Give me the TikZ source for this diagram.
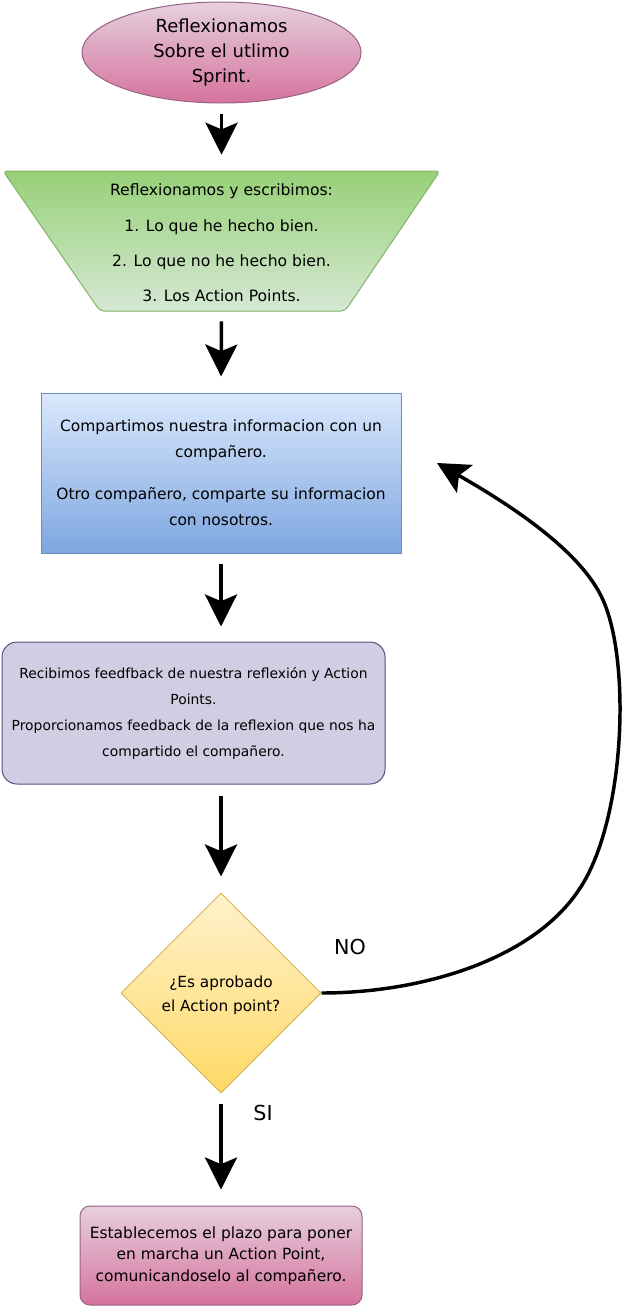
\documentclass[tikz,border=0pt]{standalone}
\usepackage{fontspec}
\setmainfont{DejaVu Sans}
\usetikzlibrary{arrows.meta,shapes.geometric}
\definecolor{pinkTop}{HTML}{E6D0DE}
\definecolor{pinkBot}{HTML}{D5739D}
\definecolor{pinkDraw}{HTML}{996185}
\definecolor{greenTop}{HTML}{97D077}
\definecolor{greenBot}{HTML}{D5E8D4}
\definecolor{greenDraw}{HTML}{82B366}
\definecolor{blueTop}{HTML}{DAE8FC}
\definecolor{blueBot}{HTML}{7EA6E0}
\definecolor{blueDraw}{HTML}{6C8EBF}
\definecolor{purpleFill}{HTML}{D0CEE2}
\definecolor{purpleDraw}{HTML}{56517E}
\definecolor{yellowTop}{HTML}{FFF2CC}
\definecolor{yellowBot}{HTML}{FFD966}
\definecolor{yellowDraw}{HTML}{D6B656}
\tikzset{
  pinkshade/.style={top color=pinkTop,bottom color=pinkBot,draw=pinkDraw,line width=0.75pt},
  flow/.style={line width=2.6pt,-{Stealth[length=24pt,width=24pt,inset=5pt]}},
  txt/.style={align=center,inner sep=0pt},
  lbl/.style={font=\fontsize{15.5}{18}\selectfont,inner sep=0pt}
}
\begin{document}
\begin{tikzpicture}[x=0.75pt,y=-0.75pt]
\useasboundingbox (0,0) rectangle (623,1306);
% ellipse
\node[ellipse,pinkshade,minimum width=209.25pt,minimum height=75.75pt,inner sep=0pt,
  txt,font=\fontsize{13.5}{18.5}\selectfont] (ell) at (221.5,52.5)
  {Reflexionamos\\Sobre el utlimo\\Sprint.};
% trapezoid
\shadedraw[top color=greenTop,bottom color=greenBot,draw=greenDraw,line width=0.75pt,rounded corners=3pt]
  (3,171) -- (440,171) -- (345,311) -- (100,311) -- cycle;
\node[minimum width=327.75pt,minimum height=105pt,inner sep=0pt] (trap) at (221.5,241) {};
\node[txt,font=\fontsize{11.7}{26.5}\selectfont] (traptxt) at (221.5,243)
  {Reflexionamos y escribimos:\\1. Lo que he hecho bien.\\2. Lo que no he hecho bien.\\3. Los Action Points.};
% blue rect
\node[rectangle,top color=blueTop,bottom color=blueBot,draw=blueDraw,line width=0.75pt,
  minimum width=270pt,minimum height=120pt,inner sep=0pt,txt,font=\fontsize{11.6}{19.5}\selectfont]
  (blue) at (221,473)
  {Compartimos nuestra informacion con un\\compañero.\\[12pt]Otro compañero, comparte su informacion\\con nosotros.};
% purple rect
\node[rectangle,rounded corners=11.25pt,fill=purpleFill,draw=purpleDraw,line width=0.75pt,
  minimum width=287.25pt,minimum height=106.5pt,inner sep=0pt,txt,font=\fontsize{10.4}{19.5}\selectfont]
  (purple) at (193.5,713)
  {Recibimos feedfback de nuestra reflexión y Action\\Points.\\Proporcionamos feedback de la reflexion que nos ha\\compartido el compañero.};
% diamond
\node[diamond,top color=yellowTop,bottom color=yellowBot,draw=yellowDraw,line width=0.75pt,
  minimum width=150pt,minimum height=150pt,inner sep=0pt,aspect=1] (dia) at (221,993) {};
\node[txt,font=\fontsize{11.5}{18}\selectfont] (diatxt) at (221,995) {¿Es aprobado\\el Action point?};
% bottom rect
\node[rectangle,rounded corners=7.5pt,pinkshade,minimum width=211.5pt,minimum height=74.25pt,
  inner sep=0pt,txt,font=\fontsize{11.6}{16}\selectfont] (last) at (221,1255.5)
  {Establecemos el plazo para poner\\en marcha un Action Point,\\comunicandoselo al compañero.};
% arrows
\draw[flow,shorten <=7.5pt,shorten >=12pt] (ell.south) -- (trap.north);
\draw[flow,shorten <=7.5pt,shorten >=12pt] (trap.south) -- (blue.north);
\draw[flow,shorten <=7.5pt,shorten >=11.25pt] (blue.south) -- (blue.south |- purple.north);
\draw[flow,shorten <=8.25pt,shorten >=12pt] (dia.north |- purple.south) -- (dia.north);
\draw[flow,shorten <=7.5pt,shorten >=12pt] (dia.south) -- (last.north);
% loop back
\coordinate (ret) at (437,463);
\draw[flow] (dia.east) .. controls (420,993) and (540,960) .. (585,880)
  .. controls (625.5,808) and (630,660) .. (603,600)
  .. controls (581,550) and (507,503) .. (ret);
\node[lbl] (no) at (350,947) {NO};
\node[lbl] (si) at (263,1113) {SI};
\end{tikzpicture}
\end{document}
